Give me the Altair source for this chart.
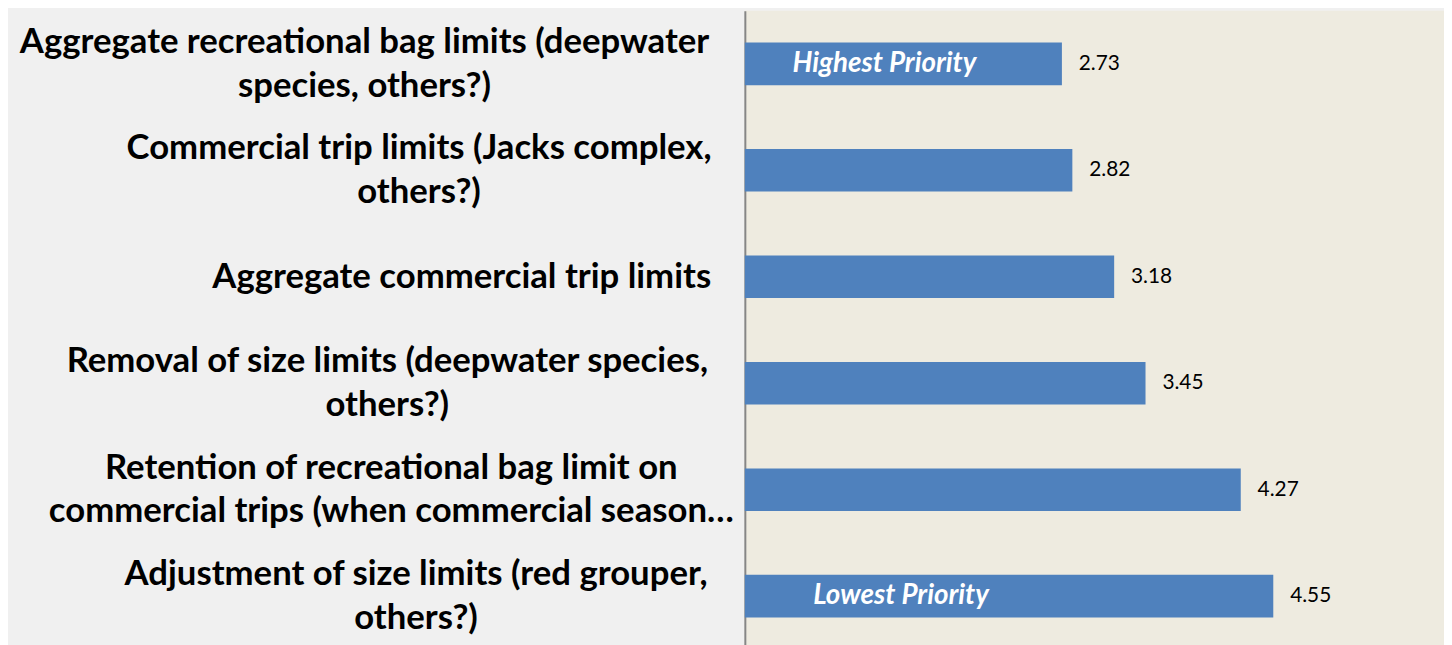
import altair as alt
import pandas as pd

categories = [
    "Aggregate recreational bag limits (deepwater|species, others?)",
    "Commercial trip limits (Jacks complex,|others?)",
    "Aggregate commercial trip limits",
    "Removal of size limits (deepwater species,|others?)",
    "Retention of recreational bag limit on|commercial trips (when commercial season\u2026",
    "Adjustment of size limits (red grouper,|others?)",
]
values = [2.73, 2.82, 3.18, 3.45, 4.27, 4.55]
notes = ["Highest Priority", "", "", "", "", "Lowest Priority"]

df = pd.DataFrame({"category": categories, "value": values, "note": notes})

# per-row label offsets from the axis (label blocks are right-aligned, lines centred)
pad_by_row = [384, 329, 286, 361, 357, 332]
label_padding = {
    "condition": [
        {"test": f"datum.value === '{c}'", "value": p}
        for c, p in zip(categories, pad_by_row)
    ],
    "value": 330,
}
# two-line labels are centred vertically on the bar
label_offset = {
    "condition": {"test": "indexof(datum.value, '|') >= 0", "value": -22},
    "value": 0,
}

yaxis = alt.Axis(
    title=None,
    labelExpr="split(datum.label, '|')",
    labelAlign="center",
    labelBaseline="middle",
    labelFont="Lato",
    labelFontSize=35,
    labelFontWeight="bold",
    labelColor="#000000",
    labelLineHeight=44,
    labelLimit=1000,
    labelPadding=label_padding,
    labelOffset=label_offset,
    ticks=False,
    tickSize=0,
    domainColor="#868686",
    domainWidth=2,
    minExtent=743,
    maxExtent=743,
)

base = alt.Chart(df).encode(
    y=alt.Y(
        "category:N",
        sort=categories,
        axis=yaxis,
        scale=alt.Scale(paddingInner=0.6, paddingOuter=0.3),
    )
)

xscale = alt.Scale(domain=[0, 6.02], nice=False, zero=True)

bars = base.mark_bar(color="#4f81bd").encode(
    x=alt.X("value:Q", scale=xscale, axis=None)
)

vals = base.mark_text(
    align="left", baseline="middle", dx=17, font="Lato", fontSize=21, color="#000000"
).encode(x=alt.X("value:Q"), text=alt.Text("value:Q", format=".2f"))

hi = base.transform_filter(alt.datum.note == "Highest Priority").mark_text(
    align="left", baseline="middle", dx=48, font="Lato", fontSize=28,
    fontWeight="bold", fontStyle="italic", color="#ffffff"
).encode(x=alt.datum(0), text="note:N")

lo = base.transform_filter(alt.datum.note == "Lowest Priority").mark_text(
    align="left", baseline="middle", dx=69, font="Lato", fontSize=28,
    fontWeight="bold", fontStyle="italic", color="#ffffff"
).encode(x=alt.datum(0), text="note:N")

chart = (
    alt.layer(bars, vals, hi, lo)
    .properties(width=705, height=644, background="#f0f0f0", padding=0)
    .configure_view(fill="#eeebe0", stroke=None)
)

chart.save("out.html", embed_options={"renderer": "svg", "actions": False})
